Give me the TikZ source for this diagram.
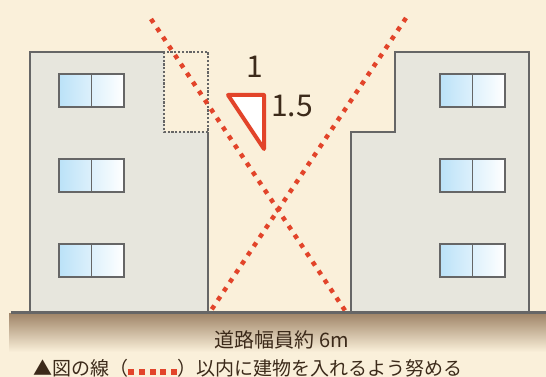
\documentclass[tikz,border=0pt]{standalone}
\usepackage{fontspec}
\setmainfont{Noto Sans CJK JP}
\definecolor{paper}{HTML}{FAF0DA}
\definecolor{wall}{HTML}{E7E6DD}
\definecolor{edge}{HTML}{666666}
\definecolor{setback}{HTML}{E2442A}
\definecolor{ink}{HTML}{3C2A1A}
\definecolor{soil}{HTML}{9F8467}
\definecolor{glass}{HTML}{BBE2F8}
\tikzset{
  wallfill/.style={fill=wall},
  outline/.style={draw=edge, line width=2pt, line join=miter},
  window/.style={left color=glass, right color=white, draw=edge, line width=1.8pt},
  pane/.style={draw=edge, line width=1.3pt},
  guideline/.style={draw=edge, line width=2.2pt, dash pattern=on 2.2pt off 1.6pt},
  slantline/.style={draw=setback, line width=4.5pt, dash pattern=on 4.5pt off 6.3pt},
  slope/.style={draw=setback, fill=white, line width=4pt, line join=round},
  label/.style={text=ink, inner sep=0pt}
}
\newcommand{\pane}[2]{%
  \path[window] (#1,#2) rectangle ++(65,33);
  \draw[pane] (#1+32.5,#2) -- ++(0,33);}
\begin{document}
\begin{tikzpicture}[x=1pt, y=-1pt]
  % page
  \fill[paper] (0,0) rectangle (546,377);
  \useasboundingbox (0,0) rectangle (546,377);

  % left building with set-back upper floor
  \path[wallfill] (30,312) -- (30,52) -- (164,52) -- (164,132) -- (208,132) -- (208,312) -- cycle;
  \draw[outline] (30,312) -- (30,52) -- (164,52);
  \draw[outline] (208,132) -- (208,312);
  \draw[guideline] (164,52) rectangle (208,132);
  % right building
  \path[wallfill] (351,312) -- (351,132) -- (395,132) -- (395,52) -- (529,52) -- (529,312) -- cycle;
  \draw[outline] (351,312) -- (351,132) -- (395,132) -- (395,52) -- (529,52) -- (529,312);

  % windows
  \foreach \y in {74,159,244} {
    \pane{59}{\y}
    \pane{440}{\y}
  }

  % slant plane lines (1 : 1.5)
  \coordinate (aTop) at (151,19);
  \coordinate (aFoot) at (346,312);
  \coordinate (bTop) at (406,18);
  \coordinate (bFoot) at (210,312);
  \draw[slantline] (aTop) -- (aFoot);
  \draw[slantline] (bTop) -- (bFoot);

  % road surface
  \shade[top color=soil, bottom color=paper] (9,313) rectangle (546,352);
  \draw[edge, line width=3pt] (11,312) -- (546,312);

  % slope triangle
  \draw[slope] (228,95) -- (264,95) -- (264,149) -- cycle;
  \node[label, font=\fontsize{30}{30}\selectfont] (one) at (255,67) {1};
  \node[label, font=\fontsize{30}{30}\selectfont] (onefive) at (292,106) {1.5};

  % captions
  \node[label, font=\fontsize{20}{20}\selectfont] (road) at (282,340) {道路幅員約 6m};
  \node[label, anchor=west, font=\fontsize{19}{19}\selectfont] (legend) at (33,368)
    {▲図の線（{\color{setback}\rule{6pt}{6pt}\hspace{4.7pt}\rule{6pt}{6pt}\hspace{4.7pt}\rule{6pt}{6pt}\hspace{4.7pt}\rule{6pt}{6pt}\hspace{4.7pt}\rule{6pt}{6pt}}）以内に建物を入れるよう努める};
\end{tikzpicture}
\end{document}
